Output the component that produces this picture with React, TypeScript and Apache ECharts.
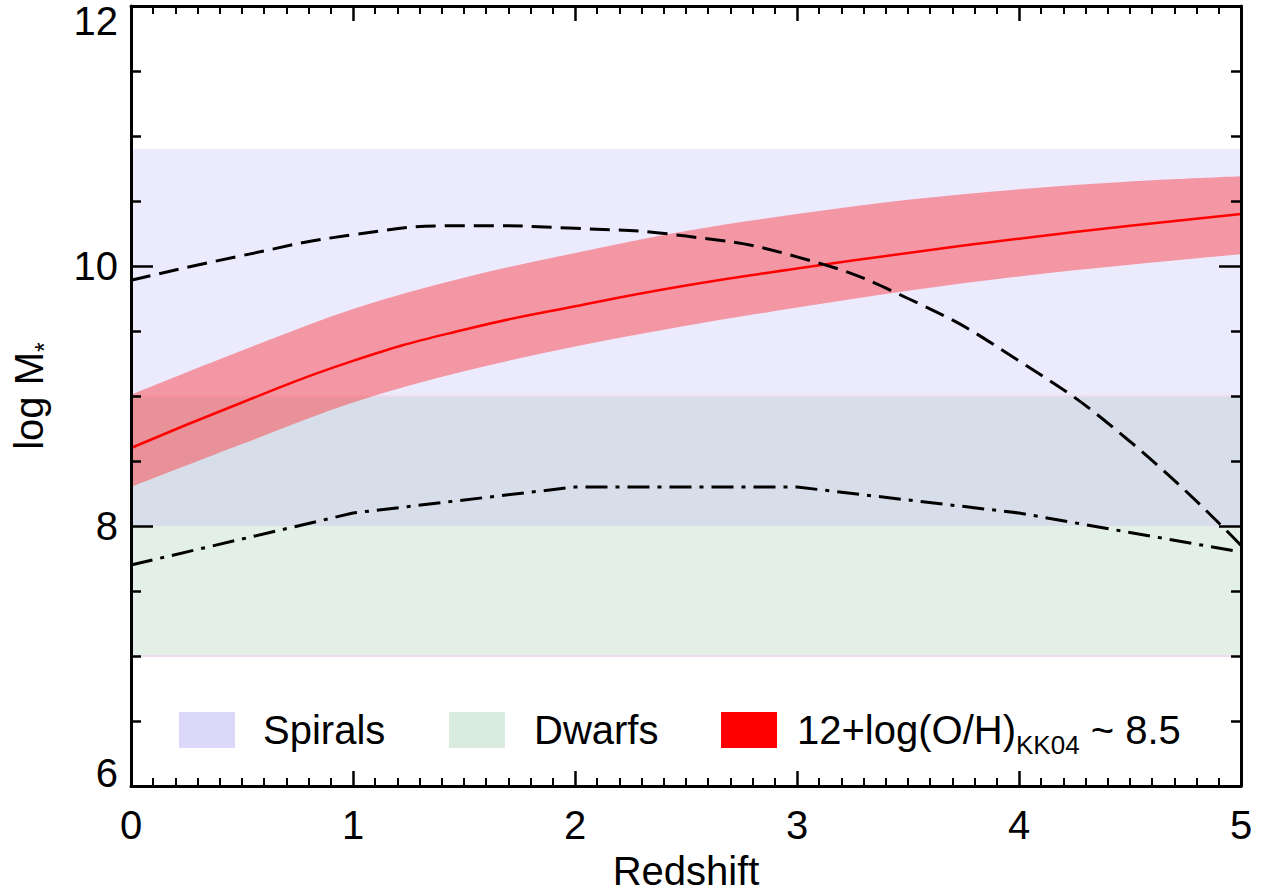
import React, { useEffect, useRef } from "react";
import * as echarts from "echarts";

// ---------------- data ----------------
const redshift = [0, 0.5, 1, 1.5, 2, 2.5, 3, 3.5, 4, 4.5, 5];
const mzrCentral = [8.6, 8.95, 9.27, 9.51, 9.69, 9.85, 9.98, 10.1, 10.21, 10.31, 10.4];
const mzrUpper = [9.01, 9.35, 9.67, 9.91, 10.1, 10.27, 10.4, 10.51, 10.59, 10.65, 10.69];
const mzrLower = [8.3, 8.63, 8.95, 9.19, 9.38, 9.54, 9.68, 9.81, 9.92, 10.01, 10.09];
const dashedCurve = [9.89, 10.08, 10.24, 10.31, 10.29, 10.23, 10.07, 9.75, 9.27, 8.65, 7.85];
const dashDotZ = [0, 1, 2, 3, 4, 5];
const dashDotCurve = [7.7, 8.1, 8.3, 8.3, 8.1, 7.8];
const spiralsRange = [8, 10.9];
const dwarfsRange = [7, 9];
const xRange = [0, 5];
const yRange = [6, 12];
const legendLabels = ["Spirals", "Dwarfs"];
const mzrLabelMain = "12+log(O/H)";
const mzrLabelSub = "KK04";
const mzrLabelTail = " ~ 8.5";

// ---------------- styles ----------------
const FONT = "'Liberation Sans', Arial, Helvetica, sans-serif";
const FS = 40;
const C_SPIRAL = "#ECEAFD";
const C_OVERLAP = "#D7DEE9";
const C_DWARF = "#E3F0E7";
const C_EDGE = "#EEDCEE";
const C_BAND = "rgba(255,52,55,0.45)";

const zip = (xs: number[], ys: number[]) => xs.map((x, i) => [x, ys[i]]);

const bandData = [
  // [x0, x1, y0, y1, colorIndex]
  [xRange[0], xRange[1], Math.max(spiralsRange[0], dwarfsRange[1]), spiralsRange[1], 0],
  [xRange[0], xRange[1], spiralsRange[0], dwarfsRange[1], 1],
  [xRange[0], xRange[1], dwarfsRange[0], spiralsRange[0], 2],
];
const bandColors = [C_SPIRAL, C_OVERLAP, C_DWARF];
const edgeData = [
  [xRange[0], xRange[1], dwarfsRange[0]],
  [xRange[0], xRange[1], dwarfsRange[1]],
];
const mzrBandData = redshift.map((z, i) => [z, mzrLower[i], mzrUpper[i]]);

// Catmull-Rom spline through pixel points -> SVG path commands (continuing a path)
function splinePath(pts: number[][], start: "M" | "L") {
  let d = `${start}${pts[0][0]},${pts[0][1]}`;
  const n = pts.length;
  for (let i = 0; i < n - 1; i++) {
    const p0 = pts[Math.max(i - 1, 0)];
    const p1 = pts[i];
    const p2 = pts[i + 1];
    const p3 = pts[Math.min(i + 2, n - 1)];
    const c1x = p1[0] + (p2[0] - p0[0]) / 6;
    const c1y = p1[1] + (p2[1] - p0[1]) / 6;
    const c2x = p2[0] - (p3[0] - p1[0]) / 6;
    const c2y = p2[1] - (p3[1] - p1[1]) / 6;
    d += ` C${c1x},${c1y} ${c2x},${c2y} ${p2[0]},${p2[1]}`;
  }
  return d;
}

function makeX(position: "bottom" | "top") {
  const bottom = position === "bottom";
  return {
    type: "value",
    min: xRange[0],
    max: xRange[1],
    interval: 1,
    position,
    z: 10,
    axisLine: { show: true, onZero: false, lineStyle: { color: "#000", width: 3 } },
    axisTick: { show: true, inside: true, length: 15, lineStyle: { color: "#000", width: 2.5 } },
    minorTick: { show: true, splitNumber: 10, length: 8, lineStyle: { color: "#000", width: 2 } },
    splitLine: { show: false },
    minorSplitLine: { show: false },
    axisLabel: {
      show: bottom,
      fontSize: FS,
      fontFamily: FONT,
      color: "#000",
      margin: 19,
    },
    name: bottom ? "Redshift" : "",
    nameLocation: "middle",
    nameGap: 65,
    nameTextStyle: { fontSize: FS, fontFamily: FONT, color: "#000" },
  };
}

function makeY(position: "left" | "right") {
  const left = position === "left";
  return {
    type: "value",
    min: yRange[0],
    max: yRange[1],
    interval: 2,
    position,
    z: 10,
    axisLine: { show: true, onZero: false, lineStyle: { color: "#000", width: 3 } },
    axisTick: { show: true, inside: true, length: 22, lineStyle: { color: "#000", width: 2.5 } },
    minorTick: { show: true, splitNumber: 4, length: 10, lineStyle: { color: "#000", width: 2.5 } },
    splitLine: { show: false },
    minorSplitLine: { show: false },
    axisLabel: {
      show: left,
      margin: 13,
      fontSize: FS,
      fontFamily: FONT,
      color: "#000",
      formatter: (v: number) =>
        v === yRange[1] ? `{t|${v}}` : v === yRange[0] ? `{b|${v}}` : `{n|${v}}`,
      rich: {
        n: { fontSize: FS, fontFamily: FONT, color: "#000" },
        t: { fontSize: FS, fontFamily: FONT, color: "#000", padding: [30, 0, 0, 0] },
        b: { fontSize: FS, fontFamily: FONT, color: "#000", padding: [0, 0, 26, 0] },
      },
    },
    name: left ? "{m|log M}{s|*}" : "",
    nameLocation: "middle",
    nameGap: 52,
    nameTextStyle: {
      fontSize: FS,
      fontFamily: FONT,
      color: "#000",
      rich: {
        m: { fontSize: FS, fontFamily: FONT, color: "#000", lineHeight: 40, verticalAlign: "top" },
        s: { fontSize: 25, fontFamily: FONT, color: "#000", lineHeight: 70 },
      },
    },
  };
}

export default function App() {
  const ref = useRef<HTMLDivElement>(null);
  useEffect(() => {
    if (!ref.current) return;
    const chart = echarts.init(ref.current, undefined, { renderer: "svg" });
    const option: any = {
      animation: false,
      backgroundColor: "#fff",
      grid: { left: 131, right: 25, top: 6, bottom: 103, containLabel: false },
      xAxis: [makeX("bottom"), makeX("top")],
      yAxis: [makeY("left"), makeY("right")],
      series: [
        {
          name: "bands",
          type: "custom",
          z: 1,
          silent: true,
          encode: { x: [0, 1], y: [2, 3] },
          data: bandData,
          renderItem: (params: any, api: any) => {
            const p0 = api.coord([api.value(0), api.value(3)]);
            const p1 = api.coord([api.value(1), api.value(2)]);
            return {
              type: "rect",
              shape: { x: p0[0], y: p0[1], width: p1[0] - p0[0], height: p1[1] - p0[1] },
              style: { fill: bandColors[api.value(4)] },
            };
          },
        },
        {
          name: "dwarfEdges",
          type: "custom",
          z: 1,
          silent: true,
          encode: { x: [0, 1], y: 2 },
          data: edgeData,
          renderItem: (params: any, api: any) => {
            const p0 = api.coord([api.value(0), api.value(2)]);
            const p1 = api.coord([api.value(1), api.value(2)]);
            return {
              type: "line",
              shape: { x1: p0[0], y1: p0[1], x2: p1[0], y2: p1[1] },
              style: { stroke: C_EDGE, lineWidth: 2 },
            };
          },
        },
        {
          name: "mzrBand",
          type: "custom",
          z: 2,
          silent: true,
          encode: { x: 0, y: [1, 2] },
          data: mzrBandData,
          renderItem: (params: any, api: any) => {
            if (params.dataIndex !== 0) return null;
            const up = mzrBandData.map((r) => api.coord([r[0], r[2]]));
            const lo = mzrBandData.map((r) => api.coord([r[0], r[1]])).reverse();
            const d = splinePath(up, "M") + " " + splinePath(lo, "L") + " Z";
            return {
              type: "path",
              shape: { pathData: d },
              style: { fill: C_BAND, stroke: "none" },
            };
          },
        },
        {
          name: "mzrCentral",
          type: "line",
          z: 3,
          smooth: true,
          symbol: "none",
          silent: true,
          lineStyle: { color: "#FF0000", width: 2.5 },
          data: zip(redshift, mzrCentral),
        },
        {
          name: "dashed",
          type: "line",
          z: 4,
          smooth: true,
          symbol: "none",
          silent: true,
          lineStyle: { color: "#000", width: 3, type: [20, 9] },
          data: zip(redshift, dashedCurve),
        },
        {
          name: "dashDot",
          type: "line",
          z: 4,
          symbol: "none",
          silent: true,
          lineStyle: { color: "#000", width: 3, type: [22, 8, 4, 8] },
          data: zip(dashDotZ, dashDotCurve),
        },
      ],
      graphic: [
        { type: "rect", z: 100, shape: { x: 179, y: 712, width: 56, height: 36 }, style: { fill: "#DCD8FA" } },
        {
          type: "text",
          z: 100,
          x: 263,
          y: 730,
          style: { text: legendLabels[0], fontSize: FS, fontFamily: FONT, fill: "#000", verticalAlign: "middle" },
        },
        { type: "rect", z: 100, shape: { x: 449, y: 712, width: 56, height: 36 }, style: { fill: "#D9EBDF" } },
        {
          type: "text",
          z: 100,
          x: 534,
          y: 730,
          style: { text: legendLabels[1], fontSize: FS, fontFamily: FONT, fill: "#000", verticalAlign: "middle" },
        },
        { type: "rect", z: 100, shape: { x: 721, y: 712, width: 56, height: 36 }, style: { fill: "#FF0000" } },
        {
          type: "text",
          z: 100,
          x: 797,
          y: 745,
          style: {
            text: `{m|${mzrLabelMain}}{s|${mzrLabelSub}}{m|${mzrLabelTail}}`,
            fontSize: FS,
            fontFamily: FONT,
            fill: "#000",
            verticalAlign: "middle",
            rich: {
              m: { fontSize: FS, fontFamily: FONT, fill: "#000", lineHeight: 40, verticalAlign: "top" },
              s: { fontSize: 26, fontFamily: FONT, fill: "#000", lineHeight: 70 },
            },
          },
        },
      ],
    };
    chart.setOption(option);
    return () => chart.dispose();
  }, []);
  return (
    <div
      ref={ref}
      style={{ position: "fixed", left: 0, top: 0, width: 1266, height: 896, background: "#fff" }}
    />
  );
}
